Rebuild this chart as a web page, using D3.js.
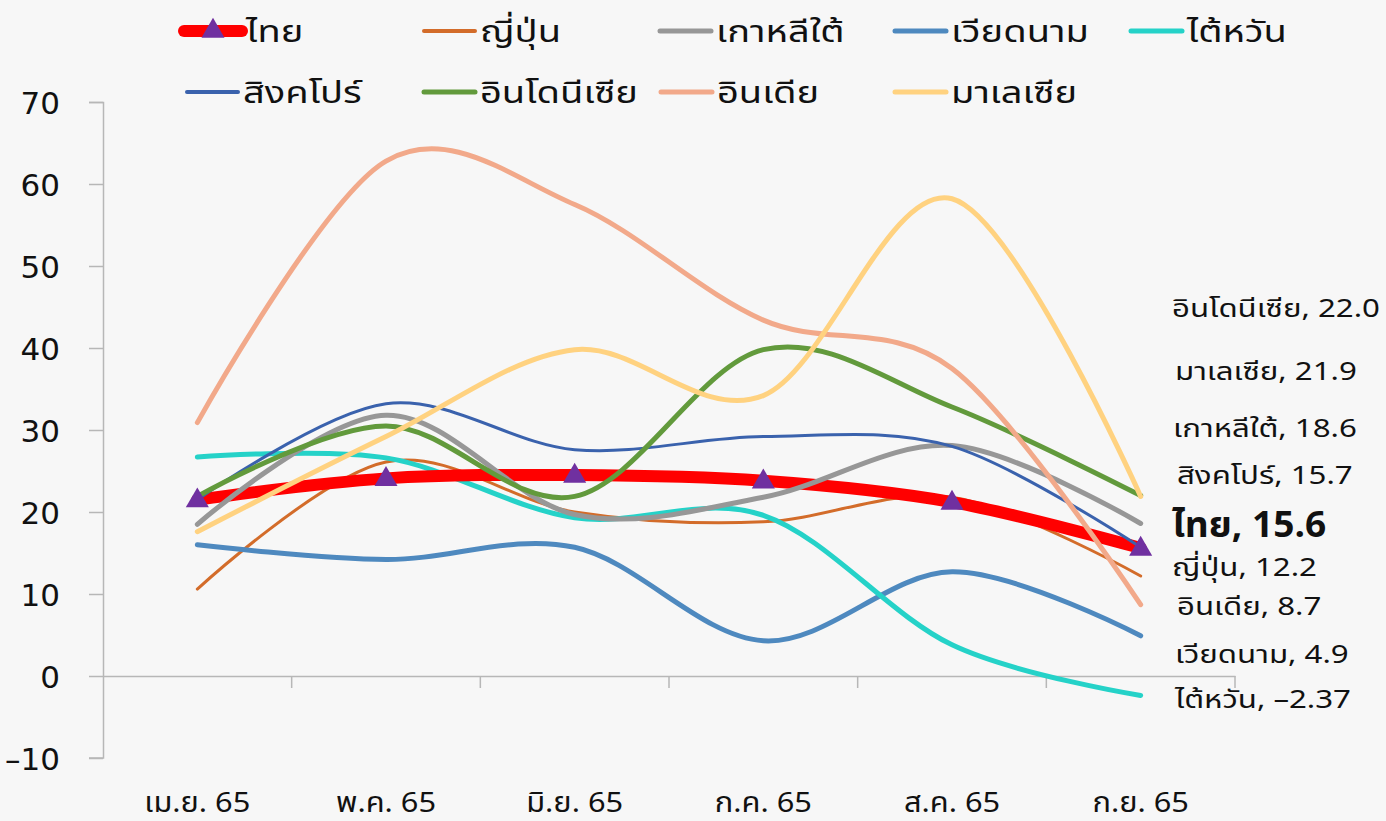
<!DOCTYPE html>
<html>
<head>
<meta charset="utf-8">
<script src="https://cdn.jsdelivr.net/npm/d3@7"></script>
<style>
  body { margin: 0; background: #f7f7f7; }
  svg { display: block; font-family: "Noto Sans Thai", "Noto Sans", "Open Sans", sans-serif; }
</style>
</head>
<body>
<div class="chart"></div>
<script>
const months = ["เม.ย. 65", "พ.ค. 65", "มิ.ย. 65", "ก.ค. 65", "ส.ค. 65", "ก.ย. 65"];
const yTicks = [-10, 0, 10, 20, 30, 40, 50, 60, 70];

const thai      = [21.5, 24.1, 24.5, 23.8, 21.2, 15.6];
const japan     = [10.6, 26.1, 20.0, 18.8, 21.8, 12.2];
const korea     = [18.5, 31.8, 19.7, 21.8, 28.1, 18.6];
const vietnam   = [16.0, 14.2, 15.7, 4.3, 12.7, 4.9];
const taiwan    = [26.7, 26.6, 19.3, 19.6, 3.8, -2.37];
const singapore = [21.5, 33.2, 27.6, 29.2, 28.0, 15.7];
const indonesia = [21.9, 30.5, 21.9, 39.8, 32.8, 22.0];
const india     = [30.9, 62.8, 57.5, 43.4, 37.5, 8.7];
const malaysia  = [17.6, 29.2, 39.8, 34.2, 58.2, 21.9];

const names = ["ไทย", "ญี่ปุ่น", "เกาหลีใต้", "เวียดนาม", "ไต้หวัน", "สิงคโปร์", "อินโดนีเซีย", "อินเดีย", "มาเลเซีย"];
const values = [thai, japan, korea, vietnam, taiwan, singapore, indonesia, india, malaysia];

// styling per series (same order as names)
const colors = ["#ff0000", "#d36c2a", "#979797", "#4e89bf", "#25d2c8", "#3a62ad", "#629a3c", "#f2a98a", "#ffd280"];
const widths = [12, 3, 5, 5, 5, 3, 5, 5, 5];
// draw order (Thai sits below most lines, markers on top)
const drawOrder = [1, 3, 4, 0, 2, 5, 6, 7, 8];

const series = names.map((n, i) => ({ name: n, values: values[i], color: colors[i], width: widths[i] }));

const width = 1386, height = 821;
const svg = d3.select(".chart").append("svg")
  .attr("width", width).attr("height", height);
svg.append("rect").attr("width", width).attr("height", height).attr("fill", "#f7f7f7");

const x = d3.scaleBand().domain(months).range([103, 1235]);
const y = d3.scaleLinear().domain([-10, 70]).range([758, 102]);
const cx = m => x(m) + x.bandwidth() / 2;

// y axis
const yAxis = svg.append("g").attr("transform", "translate(103,0)")
  .call(d3.axisLeft(y).tickValues(yTicks).tickSize(14).tickPadding(29).tickFormat(d => d < 0 ? "–" + Math.abs(d) : d));
yAxis.select(".domain").attr("stroke", "#b7b7b7").attr("stroke-width", 1.5).attr("d", "M-14,102.5H0.5V758H-14");
yAxis.selectAll(".tick line").attr("stroke", "#b7b7b7").attr("stroke-width", 1.5);
yAxis.selectAll(".tick text").attr("font-size", 31).attr("fill", "#111").attr("dy", "0.36em")
  .style("font-family", "'DejaVu Sans', sans-serif");

// x axis at zero
const xAxis = svg.append("g").attr("transform", `translate(0,${y(0)})`)
  .call(d3.axisBottom(x).tickSize(0).tickFormat(""));
xAxis.select(".domain").attr("stroke", "#b7b7b7").attr("stroke-width", 1.5);
xAxis.selectAll(".tick").remove();
xAxis.selectAll("line.sep")
  .data(months.slice(1).concat(["end"]))
  .join("line")
  .attr("class", "sep")
  .attr("x1", d => d === "end" ? 1235 : x(d)).attr("x2", d => d === "end" ? 1235 : x(d))
  .attr("y1", 0).attr("y2", 12)
  .attr("stroke", "#b7b7b7").attr("stroke-width", 1.5);

// category labels along the bottom
svg.append("g").selectAll("text")
  .data(months)
  .join("text")
  .attr("transform", d => `translate(${cx(d)},812) scale(1.1,1)`)
  .attr("text-anchor", "middle")
  .attr("font-size", 28)
  .attr("fill", "#111")
  .text(d => d);

const line = d3.line()
  .x((d, i) => cx(months[i]))
  .y(d => y(d))
  .curve(d3.curveCardinal.tension(0));

svg.append("g").selectAll("path")
  .data(drawOrder.map(i => series[i]))
  .join("path")
  .attr("d", d => line(d.values))
  .attr("fill", "none")
  .attr("stroke", d => d.color)
  .attr("stroke-width", d => d.width)
  .attr("stroke-linecap", "round");

const tri = d3.symbol().type(d3.symbolTriangle).size(230);
svg.append("g").selectAll("path")
  .data(thai)
  .join("path")
  .attr("d", tri)
  .attr("transform", (d, i) => `translate(${cx(months[i])},${y(d) + 1})`)
  .attr("fill", "#7030a0");

// legend
const legendPos = [[184, 31], [424, 31], [660, 31], [895, 31], [1131, 31], [187, 92], [424, 92], [661, 92], [895, 92]];
const leg = svg.append("g").selectAll("g")
  .data(series)
  .join("g")
  .attr("transform", (d, i) => `translate(${legendPos[i][0]},${legendPos[i][1]})`);
leg.append("line")
  .attr("x1", 0).attr("x2", (d, i) => i === 0 ? 58 : 51)
  .attr("stroke", d => d.color)
  .attr("stroke-width", d => d.name === "ไทย" ? 12 : Math.max(d.width, 4))
  .attr("stroke-linecap", "round");
leg.filter((d, i) => i === 0).append("path")
  .attr("d", tri).attr("transform", "translate(29,0)").attr("fill", "#7030a0");
leg.append("text")
  .attr("transform", (d, i) => `translate(${i === 0 ? 62 : 56},0) scale(1.27,1)`)
  .attr("dy", "0.35em")
  .attr("font-size", 30)
  .attr("fill", "#111")
  .text(d => d.name);

// end labels (manual placement, like the source chart)
const fmt = v => (Number.isInteger(Math.round(v * 100) / 10) ? v.toFixed(1) : String(v)).replace("-", "–");
const labelAt = {
  "อินโดนีเซีย": [1172, 317], "มาเลเซีย": [1175, 380], "เกาหลีใต้": [1173, 437],
  "สิงคโปร์": [1177, 484], "ไทย": [1172, 537], "ญี่ปุ่น": [1172, 576],
  "อินเดีย": [1177, 615], "เวียดนาม": [1175, 663], "ไต้หวัน": [1175, 708]
};
svg.append("g").selectAll("text")
  .data(series)
  .join("text")
  .attr("transform", d => `translate(${labelAt[d.name][0]},${labelAt[d.name][1]}) scale(${d.name === "ไทย" ? 1.03 : 1.25},1)`)
  .attr("font-size", d => d.name === "ไทย" ? 36 : 25)
  .attr("font-weight", d => d.name === "ไทย" ? "bold" : null)
  .attr("fill", "#111")
  .text(d => `${d.name}, ${fmt(d.values[d.values.length - 1])}`);
</script>
</body>
</html>
